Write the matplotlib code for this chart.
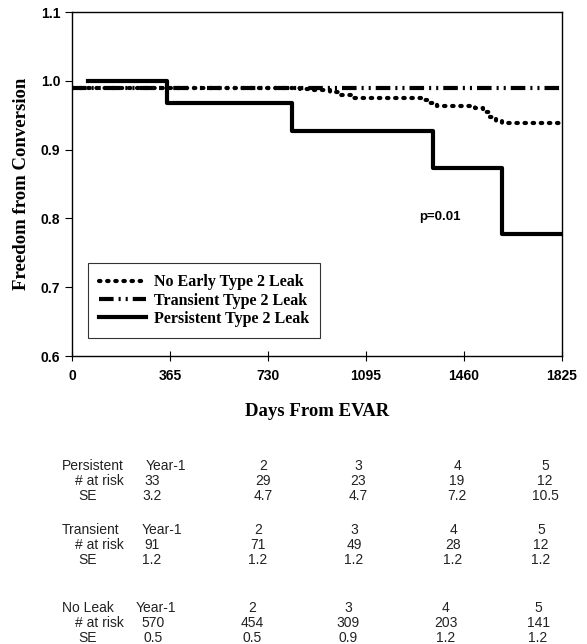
import matplotlib.pyplot as plt
import numpy as np

# Kaplan-Meier style step data (days, freedom from conversion)
persist_t = [60, 355, 820, 1345, 1600, 1825]
persist_s = [1.0, 0.968, 0.927, 0.873, 0.777, 0.777]

trans_t = [0, 1825]
trans_s = [0.99, 0.99]

noleak_t = [0, 850, 900, 960, 1000, 1040, 1300, 1330, 1360, 1500, 1530, 1555, 1580, 1600, 1825]
noleak_s = [0.99, 0.988, 0.986, 0.984, 0.980, 0.975, 0.972, 0.968, 0.964, 0.961, 0.955, 0.948, 0.942, 0.939, 0.939]

xticks = [0, 365, 730, 1095, 1460, 1825]
yticks = [0.6, 0.7, 0.8, 0.9, 1.0, 1.1]

# number-at-risk table
years = ['Year-1', '2', '3', '4', '5']
groups = ['Persistent', 'Transient', 'No Leak']
at_risk = {'Persistent': ['33', '29', '23', '19', '12'],
           'Transient': ['91', '71', '49', '28', '12'],
           'No Leak': ['570', '454', '309', '203', '141']}
se = {'Persistent': ['3.2', '4.7', '4.7', '7.2', '10.5'],
      'Transient': ['1.2', '1.2', '1.2', '1.2', '1.2'],
      'No Leak': ['0.5', '0.5', '0.9', '1.2', '1.2']}

W, H = 587, 644
fig = plt.figure(figsize=(W / 100, H / 100), dpi=100)
ax = fig.add_axes([72 / W, 1 - 356 / H, 490 / W, 344 / H])

ax.step(noleak_t, noleak_s, where='post', color='black', lw=3,
        linestyle=(0, (0.35, 1.6)), dash_capstyle='round',
        label='No Early Type 2 Leak')
ax.step(trans_t, trans_s, where='post', color='black', lw=3,
        linestyle=(0, (3.5, 1.2, 0.5, 1.2, 0.5, 1.2)),
        label='Transient Type 2 Leak')
ax.step(persist_t, persist_s, where='post', color='black', lw=3,
        label='Persistent Type 2 Leak')

ax.set_xlim(0, 1825)
ax.set_ylim(0.6, 1.1)
ax.set_xticks(xticks)
ax.set_yticks(yticks)
ax.set_yticklabels([f'{v:.1f}' for v in yticks])
for lab in ax.get_xticklabels() + ax.get_yticklabels():
    lab.set_fontweight('bold')
    lab.set_fontfamily('Liberation Sans')
    lab.set_fontsize(10)
ax.tick_params(axis='x', direction='inout', length=7, pad=6)
ax.tick_params(axis='y', direction='out', length=5)
for sp in ax.spines.values():
    sp.set_linewidth(1.0)

ax.set_ylabel('Freedom from Conversion', family='Liberation Serif',
              fontweight='bold', fontsize=13.5, labelpad=8)
ax.set_xlabel('Days From EVAR', family='Liberation Serif',
              fontweight='bold', fontsize=13.5, labelpad=14)

ax.text(1370, 0.802, 'p=0.01', family='Liberation Sans', fontweight='bold',
        fontsize=9.5, ha='center', va='center')

leg = ax.legend(loc='lower left', bbox_to_anchor=(0.033, 0.052),
                borderaxespad=0,
                prop={'family': 'Liberation Serif', 'weight': 'bold', 'size': 11.5},
                frameon=True, fancybox=False, edgecolor='black',
                handlelength=2.9, handletextpad=0.5, labelspacing=0.15,
                borderpad=0.7)
leg.get_frame().set_linewidth(0.8)

# table of patients at risk
tfont = dict(family='Liberation Sans', fontsize=10, va='center', color='#222222')
group_y = {'Persistent': 466, 'Transient': 530, 'No Leak': 608}
year1_x = {'Persistent': 146, 'Transient': 142, 'No Leak': 136}
col_x = {'Persistent': [152, 263, 358, 457, 545],
         'Transient': [152, 258, 354, 453, 541],
         'No Leak': [153, 252, 348, 446, 538]}
for g in groups:
    y0 = group_y[g]
    fig.text(62 / W, 1 - y0 / H, g, ha='left', **tfont)
    fig.text(75 / W, 1 - (y0 + 15) / H, '# at risk', ha='left', **tfont)
    fig.text(78 / W, 1 - (y0 + 30) / H, 'SE', ha='left', **tfont)
    for i in range(5):
        if i == 0:
            fig.text(year1_x[g] / W, 1 - y0 / H, years[0], ha='left', **tfont)
        else:
            fig.text(col_x[g][i] / W, 1 - y0 / H, years[i], ha='center', **tfont)
        fig.text(col_x[g][i] / W, 1 - (y0 + 15) / H, at_risk[g][i], ha='center', **tfont)
        fig.text(col_x[g][i] / W, 1 - (y0 + 30) / H, se[g][i], ha='center', **tfont)

fig.savefig('out.png', dpi=100)
